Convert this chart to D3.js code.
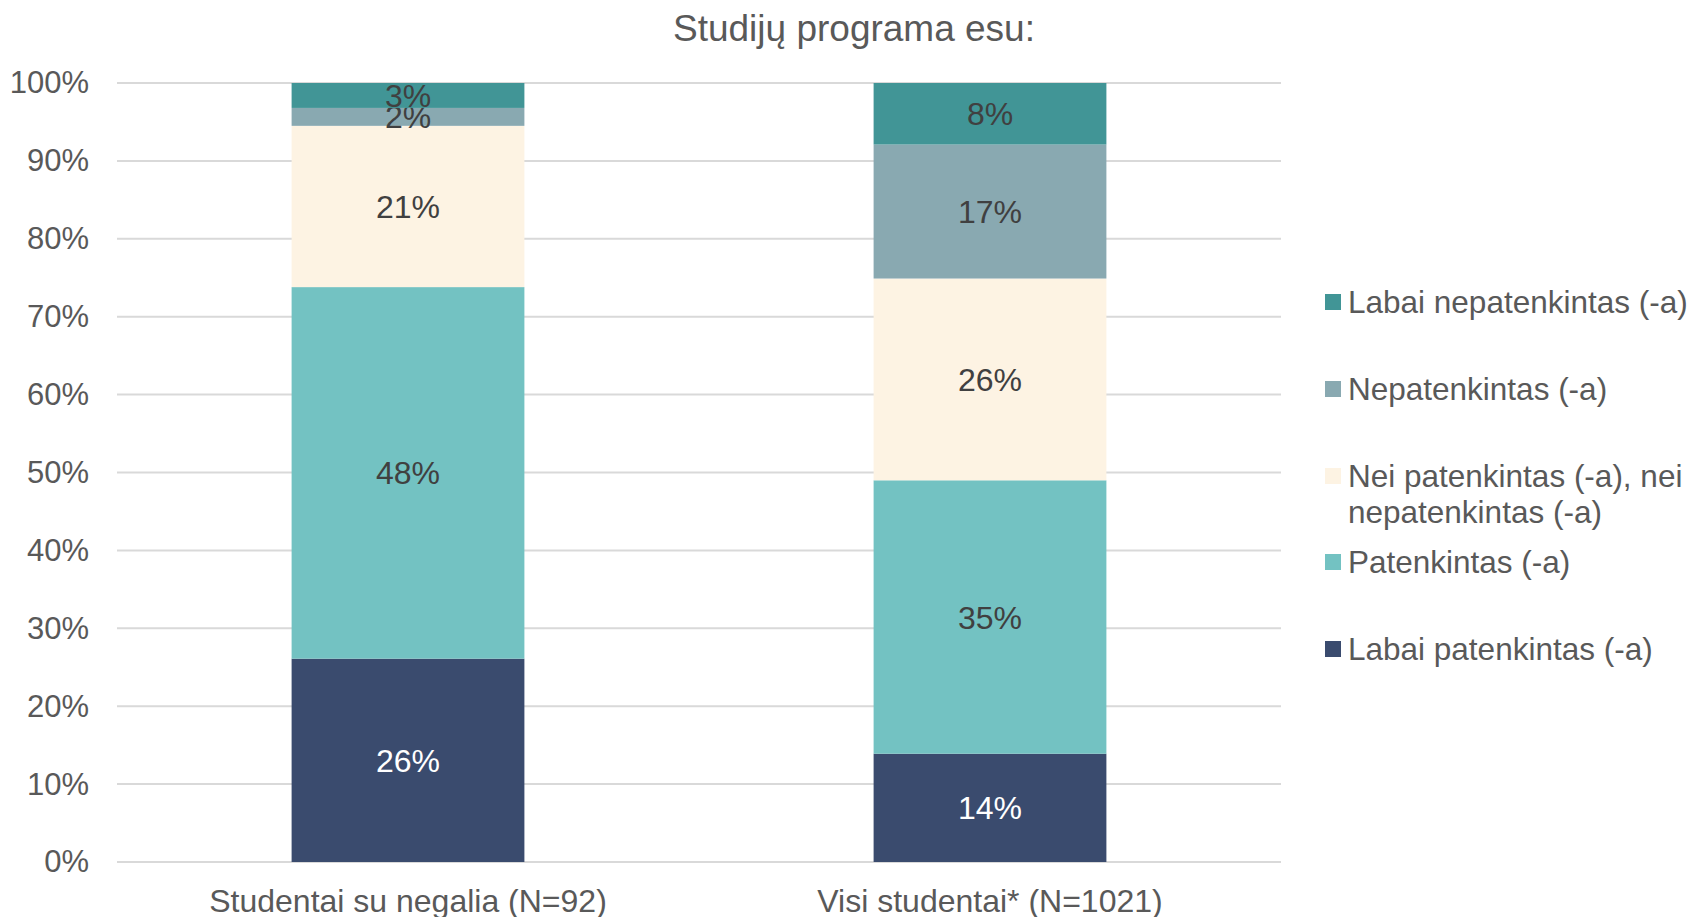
<!DOCTYPE html>
<html>
<head>
<meta charset="utf-8">
<script src="https://cdn.jsdelivr.net/npm/d3@7"></script>
<style>
  body { margin: 0; background: #fff; }
  svg { display: block; font-family: "Liberation Sans", Arial, sans-serif; }
</style>
</head>
<body>
<div id="chart"></div>
<script>
// categories (x axis)
const groups = ["Studentai su negalia (N=92)", "Visi studentai* (N=1021)"];
// series, from bottom of stack to top
const seriesNames = [
    "Labai patenkintas (-a)",
    "Patenkintas (-a)",
    "Nei patenkintas (-a), nei nepatenkintas (-a)",
    "Nepatenkintas (-a)",
    "Labai nepatenkintas (-a)"
];
const labaiPatenkintas = [26.1, 13.9];
const patenkintas = [47.7, 35.1];
const neiNei = [20.7, 25.9];
const nepatenkintas = [2.3, 17.2];
const labaiNepatenkintas = [3.2, 7.9];
const yTicks = [0, 10, 20, 30, 40, 50, 60, 70, 80, 90, 100];

const colors = ["#3A4B6E", "#73C2C2", "#FDF3E3", "#89A9B1", "#419596"];
const labelColors = ["#ffffff", "#404040", "#404040", "#404040", "#404040"];

const seriesValues = [labaiPatenkintas, patenkintas, neiNei, nepatenkintas, labaiNepatenkintas];
const rows = groups.map((g, i) => {
    const r = { group: g };
    seriesNames.forEach((s, j) => r[s] = seriesValues[j][i]);
    return r;
});

const W = 1694, H = 917;
const margin = { top: 83, right: 413, bottom: 55, left: 117 };
const width = W - margin.left - margin.right,
    height = H - margin.top - margin.bottom;

const svg = d3.select("#chart").append("svg")
    .attr("width", W)
    .attr("height", H);

svg.append("text")
    .attr("x", 854)
    .attr("y", 41)
    .attr("text-anchor", "middle")
    .attr("font-size", 37)
    .attr("fill", "#595959")
    .text("Studijų programa esu:");

const g = svg.append("g")
    .attr("transform", `translate(${margin.left},${margin.top})`);

const x = d3.scaleBand()
    .domain(groups)
    .range([0, width])
    .paddingInner(0.6)
    .paddingOuter(0.3);

const y = d3.scaleLinear()
    .domain([0, 100])
    .range([height, 0]);

// gridlines
g.append("g")
    .selectAll("line")
    .data(yTicks)
    .enter().append("line")
    .attr("x1", 0)
    .attr("x2", width)
    .attr("y1", d => y(d))
    .attr("y2", d => y(d))
    .attr("stroke", "#D9D9D9")
    .attr("stroke-width", 2);

// y axis labels
const yAxis = g.append("g")
    .call(d3.axisLeft(y).tickValues(yTicks).tickFormat(d => d + "%").tickSize(0).tickPadding(28));
yAxis.select(".domain").remove();
yAxis.selectAll("text")
    .attr("font-size", 31)
    .attr("fill", "#595959")
    .attr("font-family", "Liberation Sans, Arial, sans-serif");

// x axis
const xAxis = g.append("g")
    .attr("transform", `translate(0,${height})`)
    .call(d3.axisBottom(x).tickSize(0).tickPadding(27));
xAxis.select(".domain").remove();
xAxis.selectAll("text")
    .attr("font-size", 32)
    .attr("fill", "#595959")
    .attr("font-family", "Liberation Sans, Arial, sans-serif");

const stack = d3.stack().keys(seriesNames);
const stacked = stack(rows);

const layers = g.selectAll(".layer")
    .data(stacked)
    .enter().append("g")
    .attr("class", "layer");

layers.selectAll("rect")
    .data(d => d)
    .enter().append("rect")
    .attr("x", d => x(d.data.group))
    .attr("y", d => y(d[1]))
    .attr("width", x.bandwidth())
    .attr("height", d => y(d[0]) - y(d[1]))
    .attr("fill", function () { return colors[d3.select(this.parentNode).datum().index]; });

layers.selectAll("text")
    .data(d => d)
    .enter().append("text")
    .attr("x", d => x(d.data.group) + x.bandwidth() / 2)
    .attr("y", d => (y(d[0]) + y(d[1])) / 2)
    .attr("dy", "0.36em")
    .attr("text-anchor", "middle")
    .attr("font-size", 32)
    .attr("fill", function () { return labelColors[d3.select(this.parentNode).datum().index]; })
    .text(d => Math.round(d[1] - d[0]) + "%");

// legend
const legendItems = [
    { name: "Labai nepatenkintas (-a)", lines: ["Labai nepatenkintas (-a)"], y: 302 },
    { name: "Nepatenkintas (-a)", lines: ["Nepatenkintas (-a)"], y: 389 },
    { name: "Nei patenkintas (-a), nei nepatenkintas (-a)", lines: ["Nei patenkintas (-a), nei", "nepatenkintas (-a)"], y: 476 },
    { name: "Patenkintas (-a)", lines: ["Patenkintas (-a)"], y: 562 },
    { name: "Labai patenkintas (-a)", lines: ["Labai patenkintas (-a)"], y: 649 }
];

const legend = svg.append("g");
legendItems.forEach(item => {
    const idx = seriesNames.indexOf(item.name);
    legend.append("rect")
        .attr("x", 1325)
        .attr("y", item.y - 8)
        .attr("width", 16)
        .attr("height", 16)
        .attr("fill", colors[idx]);
    item.lines.forEach((line, k) => {
        legend.append("text")
            .attr("x", 1348)
            .attr("y", item.y + k * 36)
            .attr("dy", "0.36em")
            .attr("font-size", 31.5)
            .attr("fill", "#595959")
            .text(line);
    });
});
</script>
</body>
</html>
